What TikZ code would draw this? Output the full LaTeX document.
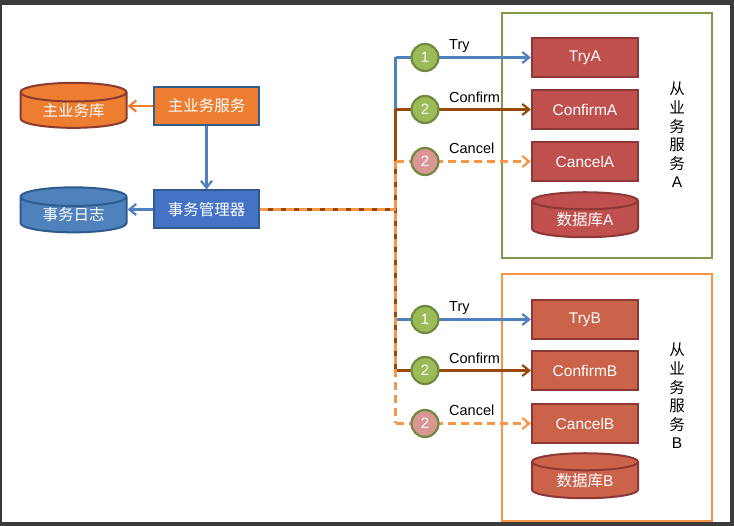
\documentclass[tikz,border=0pt]{standalone}
\usepackage{fontspec}
\setmainfont{Liberation Sans}
\newfontfamily\cjk{Noto Sans CJK SC}
\usetikzlibrary{arrows.meta,shapes.geometric}
\definecolor{frameA}{HTML}{7F9A48}
\definecolor{frameB}{HTML}{F79646}
\definecolor{redA}{HTML}{C0504D}
\definecolor{redB}{HTML}{CB634B}
\definecolor{edgeRed}{HTML}{8C3836}
\definecolor{mainOrange}{HTML}{ED7D31}
\definecolor{edgeOrange}{HTML}{8A3A2E}
\definecolor{lineBlue}{HTML}{4F81BD}
\definecolor{mgrBlue}{HTML}{4472C4}
\definecolor{edgeBlue}{HTML}{2F5C8F}
\definecolor{lineBrown}{HTML}{984807}
\definecolor{stepGreen}{HTML}{9BBB59}
\definecolor{stepEdge}{HTML}{71893F}
\definecolor{stepPink}{HTML}{D99694}
\newcommand{\dbtext}[1]{\raisebox{2pt}{#1}}
\tikzset{
  x=1pt, y=-1pt,
  box/.style={draw, line width=2pt, minimum width=105pt, minimum height=38pt, inner sep=0pt, text=white, font=\fontsize{15.5}{15.5}\selectfont},
  redbox/.style={box, draw=edgeRed, minimum width=106pt, minimum height=39pt},
  dbnode/.style={cylinder, shape border rotate=90, aspect=0.3, draw, line width=2pt, minimum width=106pt, minimum height=45pt, inner sep=0pt, text=white, font=\fontsize{15.5}{15.5}\selectfont},
  stepnode/.style={circle, draw=stepEdge, line width=2.2pt, minimum size=27pt, inner sep=0pt, text=white, font=\fontsize{15}{15}\selectfont},
  calllabel/.style={anchor=west, inner sep=0pt, font=\fontsize{14.5}{14.5}\selectfont},
  sidelabel/.style={align=center, inner sep=0pt, font=\fontsize{15.5}{18.6}\selectfont},
  flow/.style={line width=2.2pt, -{Straight Barb[length=7pt,width=11pt,line width=2.2pt]}},
  trunk/.style={line width=2.2pt},
  cancelline/.style={line width=2.2pt, draw=frameB, dash pattern=on 8pt off 5pt}
}
\begin{document}
\begin{tikzpicture}
    \useasboundingbox (0,0) rectangle (734,526);
    \fill[black!77] (0,0) rectangle (734,526);
    \fill[white] (2,5) rectangle (730,522);

    \node[draw=frameA, line width=2pt, minimum width=210pt, minimum height=245pt, inner sep=0pt] (serviceA) at (606.5,136) {};
    \node[draw=frameB, line width=2pt, minimum width=210pt, minimum height=246pt, inner sep=0pt] (serviceB) at (606.5,397.5) {};

    \node[dbnode, draw=edgeOrange, fill=mainOrange] (mainDb) at (73.5,110.5) {\dbtext{\cjk 主业务库}};
    \node[dbnode, draw=edgeBlue, fill=lineBlue] (logDb) at (73.5,215) {\dbtext{\cjk 事务日志}};
    \node[box, draw=edgeBlue, fill=mainOrange] (mainSvc) at (206.5,106) {{\cjk 主业务服务}};
    \node[box, draw=edgeBlue, fill=mgrBlue] (manager) at (206.5,209.5) {{\cjk 事务管理器}};

    \node[redbox, fill=redA] (tryA) at (585,57.5) {TryA};
    \node[redbox, fill=redA] (confirmA) at (585,109.5) {ConfirmA};
    \node[redbox, fill=redA] (cancelA) at (585,161.5) {CancelA};
    \node[dbnode, draw=edgeRed, fill=redA] (dbA) at (585,219.5) {\dbtext{{\cjk 数据库}A}};

    \node[redbox, fill=redB] (tryB) at (585,319.5) {TryB};
    \node[redbox, fill=redB] (confirmB) at (585,370.5) {ConfirmB};
    \node[redbox, fill=redB] (cancelB) at (585,423.5) {CancelB};
    \node[dbnode, draw=edgeRed, fill=redB] (dbB) at (585,480.5) {\dbtext{{\cjk 数据库}B}};

    \node[sidelabel] (labelA) at (677,135) {{\cjk 从}\\{\cjk 业}\\{\cjk 务}\\{\cjk 服}\\{\cjk 务}\\A};
    \node[sidelabel] (labelB) at (677,396) {{\cjk 从}\\{\cjk 业}\\{\cjk 务}\\{\cjk 服}\\{\cjk 务}\\B};

    \coordinate (joinTry) at (395.5,57.5);
    \coordinate (joinConfirm) at (395.5,109.5);
    \coordinate (joinCancel) at (395.5,161.5);
    \coordinate (joinMid) at (395.5,209.5);
    \coordinate (joinTryB) at (395.5,319.5);
    \coordinate (joinConfirmB) at (395.5,370.5);
    \coordinate (joinCancelB) at (395.5,423.5);

    \draw[flow, draw=lineBlue] (mainSvc) -- (manager);
    \draw[flow, draw=mainOrange] (mainSvc) -- (mainDb.east |- mainSvc);
    \draw[flow, draw=lineBlue] (manager) -- (logDb.east |- manager);

    \draw[trunk, draw=lineBlue] (joinConfirm) -- (joinTry);
    \draw[flow, draw=lineBlue] (joinTry) -- (tryA);
    \draw[flow, draw=lineBlue] (joinTryB) -- (tryB);
    \draw[trunk, draw=lineBrown] (manager.east) -- (joinMid);
    \draw[trunk, draw=lineBrown] (joinConfirm) -- (joinConfirmB);
    \draw[flow, draw=lineBrown] (joinConfirm) -- (confirmA);
    \draw[flow, draw=lineBrown] (joinConfirmB) -- (confirmB);
    \draw[cancelline] (manager.east) -- (joinMid);
    \draw[cancelline] (joinCancel) -- (joinCancelB);
    \draw[flow, cancelline] (joinCancel) -- (cancelA);
    \draw[flow, cancelline] (joinCancelB) -- (cancelB);

    \node[stepnode, fill=stepGreen] (stepTryA) at (425,57.5) {1};
    \node[stepnode, fill=stepGreen] (stepConfirmA) at (425,109.5) {2};
    \node[stepnode, fill=stepPink] (stepCancelA) at (425,161.5) {2};
    \node[stepnode, fill=stepGreen] (stepTryB) at (425,319.5) {1};
    \node[stepnode, fill=stepGreen] (stepConfirmB) at (425,370.5) {2};
    \node[stepnode, fill=stepPink] (stepCancelB) at (425,423.5) {2};

    \node[calllabel] (tryLabelA) at (449,46) {Try};
    \node[calllabel] (confirmLabelA) at (449,97) {Confirm};
    \node[calllabel] (cancelLabelA) at (449,148) {Cancel};
    \node[calllabel] (tryLabelB) at (449,308) {Try};
    \node[calllabel] (confirmLabelB) at (449,358) {Confirm};
    \node[calllabel] (cancelLabelB) at (449,410) {Cancel};
\end{tikzpicture}
\end{document}
